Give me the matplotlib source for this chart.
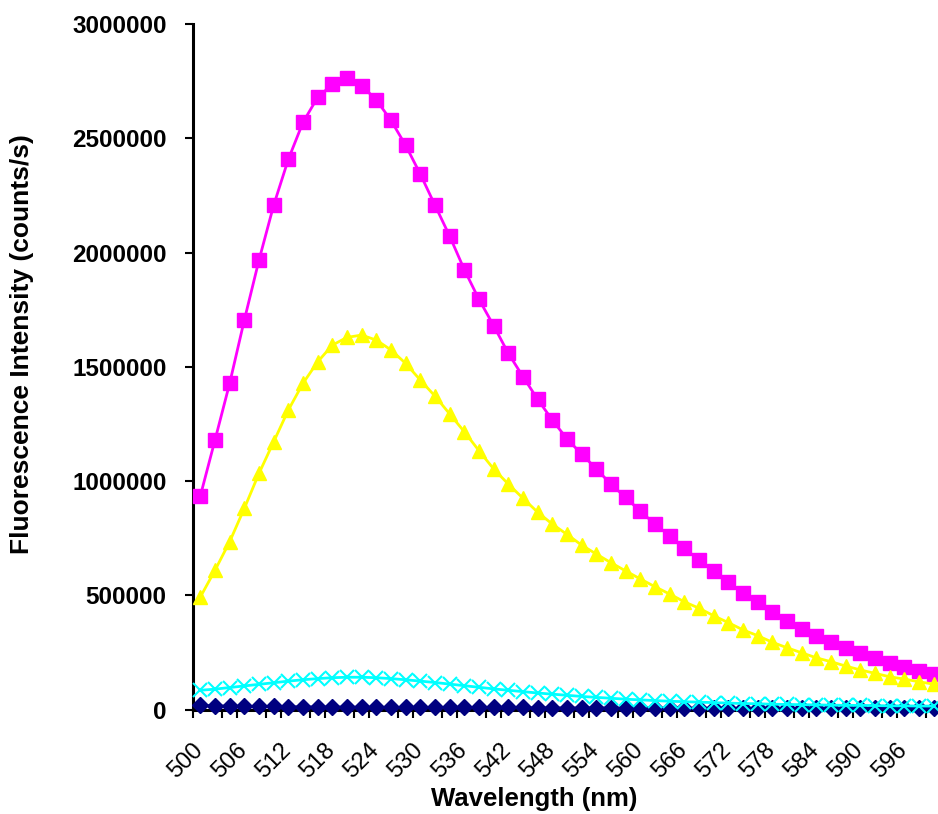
import matplotlib
matplotlib.use("Agg")
import matplotlib.pyplot as plt
from matplotlib.ticker import FixedLocator, FuncFormatter

plt.rcParams["font.family"] = ["Liberation Sans", "DejaVu Sans"]

# comprimentos de onda (categorias, passo de 2 nm)
wavelengths = list(range(500, 602, 2))

# série azul-marinho (losangos cheios)
navy_vals = [20000, 18000, 17000, 16000, 15000, 15000, 14000, 14000, 13000, 13000,
             13000, 12000, 12000, 12000, 11000, 11000, 11000, 11000, 10000, 10000,
             10000, 10000, 10000, 9000, 9000, 9000, 9000, 9000, 9000, 8000,
             8000, 8000, 8000, 8000, 8000, 8000, 8000, 7000, 7000, 7000,
             7000, 7000, 7000, 7000, 7000, 6000, 6000, 6000, 6000, 6000, 6000]

# série magenta (quadrados)
magenta_vals = [935000, 1180000, 1428000, 1705000, 1967000, 2207000, 2408000, 2570000, 2679000, 2736000,
                2762000, 2730000, 2668000, 2578000, 2469000, 2343000, 2207000, 2072000, 1925000, 1795000,
                1680000, 1559000, 1457000, 1358000, 1267000, 1185000, 1118000, 1054000, 986000, 929000,
                868000, 812000, 761000, 706000, 655000, 607000, 557000, 512000, 470000, 429000,
                389000, 353000, 324000, 295000, 271000, 247000, 225000, 206000, 188000, 171000, 156000]

# série amarela (triângulos)
yellow_vals = [493000, 610000, 735000, 881000, 1034000, 1172000, 1311000, 1428000, 1522000, 1595000,
               1629000, 1639000, 1617000, 1574000, 1515000, 1442000, 1372000, 1294000, 1216000, 1133000,
               1053000, 987000, 925000, 864000, 812000, 767000, 720000, 681000, 643000, 607000,
               572000, 538000, 506000, 472000, 444000, 411000, 381000, 349000, 324000, 295000,
               271000, 249000, 227000, 210000, 191000, 174000, 159000, 144000, 134000, 122000, 112000]

# série ciano (marcadores x)
cyan_vals = [85000, 90000, 97000, 104000, 111000, 118000, 125000, 131000, 136000, 140000,
             142000, 142000, 140000, 136000, 131000, 125000, 119000, 112000, 105000, 98000,
             91000, 85000, 79000, 73000, 68000, 63000, 58000, 54000, 50000, 46000,
             43000, 40000, 37000, 35000, 33000, 31000, 29000, 27000, 26000, 24000,
             23000, 22000, 21000, 20000, 19000, 19000, 18000, 17000, 17000, 16000, 16000]

x = list(range(len(wavelengths)))

fig = plt.figure(figsize=(9.38, 8.14), dpi=100)
ax = fig.add_axes([193 / 938, 1 - 709.7 / 814, 748 / 938, 685.7 / 814])

ax.plot(x, navy_vals, color="#000080", marker="D", markersize=8.5, lw=1.5, clip_on=False, zorder=3)
ax.plot(x, magenta_vals, color="#FF00FF", marker="s", markersize=10.5, lw=2, clip_on=False, zorder=4)
ax.plot(x, yellow_vals, color="#FFFF00", marker="^", markersize=10.5, lw=2, clip_on=False, zorder=5)
ax.plot(x, cyan_vals, color="#00FFFF", marker="x", markersize=10.5, markeredgewidth=1.5, lw=2,
        clip_on=False, zorder=6)

ax.set_xlim(-0.5, len(wavelengths) - 0.5)
ax.set_ylim(0, 3000000)

# rótulos a cada 3 categorias (um pouco à direita, como no Excel), marcas entre categorias
label_pos = [p + 0.5 for p in x[::3]]
ax.xaxis.set_major_locator(FixedLocator(label_pos))
ax.set_xticklabels([str(w) for w in wavelengths[::3]], rotation=45, ha="right", fontsize=17)
ax.xaxis.set_minor_locator(FixedLocator([i - 0.5 for i in range(len(wavelengths) + 1)]))
ax.tick_params(axis="x", which="major", length=0, pad=21)
ax.tick_params(axis="x", which="minor", length=6, width=1.5, direction="out")

ax.set_yticks([0, 500000, 1000000, 1500000, 2000000, 2500000, 3000000])
ax.yaxis.set_major_formatter(FuncFormatter(lambda v, p: f"{int(v)}"))
ax.tick_params(axis="y", length=6, width=1.5, direction="out", pad=13, labelsize=17.5)
for lab in ax.get_yticklabels():
    lab.set_fontweight("bold")

for side in ["top", "right"]:
    ax.spines[side].set_visible(False)
for side in ["left", "bottom"]:
    ax.spines[side].set_linewidth(2.2)

ax.set_xlabel("Wavelength (nm)", fontsize=18.5, fontweight="bold", va="center")
ax.xaxis.set_label_coords(0.4566, -0.130)
ax.set_ylabel("Fluorescence Intensity (counts/s)", fontsize=19, fontweight="bold", va="center")
ax.yaxis.set_label_coords(-0.2286, 0.533)

fig.savefig("out.png", dpi=100)
